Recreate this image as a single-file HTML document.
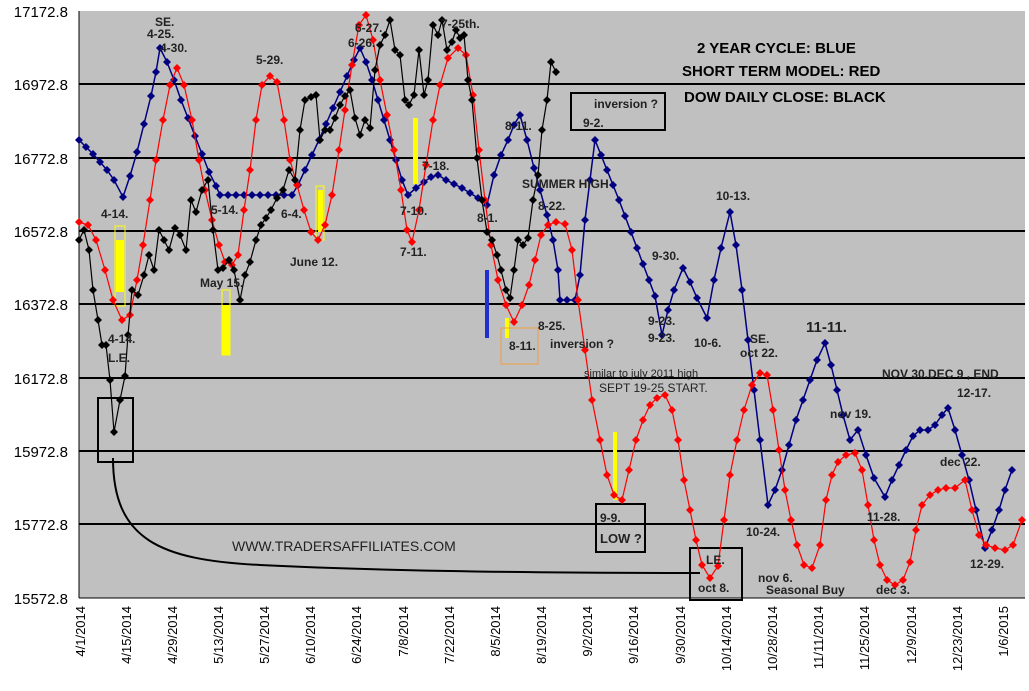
<!DOCTYPE html>
<html><head><meta charset="utf-8"><style>
body{margin:0;background:#fff}
svg{display:block;font-family:"Liberation Sans",Arial,sans-serif}
.t{font-size:12px;font-weight:bold;fill:#222}
.y{font-size:15px;fill:#000}
.x{font-size:13px;fill:#000}
</style></head><body>
<svg width="1029" height="691" viewBox="0 0 1029 691">
<defs>
<marker id="mb" markerWidth="8" markerHeight="8" refX="4" refY="4" markerUnits="userSpaceOnUse"><path d="M4 0L8 4L4 8L0 4Z" fill="#000080"/></marker>
<marker id="mr" markerWidth="8" markerHeight="8" refX="4" refY="4" markerUnits="userSpaceOnUse"><path d="M4 0L8 4L4 8L0 4Z" fill="#ff0000"/></marker>
<marker id="mk" markerWidth="8" markerHeight="8" refX="4" refY="4" markerUnits="userSpaceOnUse"><path d="M4 0L8 4L4 8L0 4Z" fill="#000"/></marker>
</defs>
<rect x="79" y="11" width="946" height="587" fill="#c0c0c0"/>
<g stroke="#000" stroke-width="2">
<line x1="79" y1="84" x2="1025" y2="84"/><line x1="79" y1="158" x2="1025" y2="158"/>
<line x1="79" y1="231" x2="1025" y2="231"/><line x1="79" y1="304" x2="1025" y2="304"/>
<line x1="79" y1="378" x2="1025" y2="378"/><line x1="79" y1="451" x2="1025" y2="451"/>
<line x1="79" y1="524" x2="1025" y2="524"/>
</g>
<line x1="79" y1="11" x2="79" y2="598" stroke="#000"/>
<line x1="79" y1="598" x2="1025" y2="598" stroke="#000"/>
<g class="y" text-anchor="end">
<text x="68" y="17">17172.8</text><text x="68" y="90">16972.8</text><text x="68" y="164">16772.8</text>
<text x="68" y="237">16572.8</text><text x="68" y="310">16372.8</text><text x="68" y="384">16172.8</text>
<text x="68" y="457">15972.8</text><text x="68" y="530">15772.8</text><text x="68" y="604">15572.8</text>
</g>
<g class="x" text-anchor="end">
<text transform="translate(85,606) rotate(-90)">4/1/2014</text>
<text transform="translate(131,606) rotate(-90)">4/15/2014</text>
<text transform="translate(177,606) rotate(-90)">4/29/2014</text>
<text transform="translate(223,606) rotate(-90)">5/13/2014</text>
<text transform="translate(269,606) rotate(-90)">5/27/2014</text>
<text transform="translate(315,606) rotate(-90)">6/10/2014</text>
<text transform="translate(361,606) rotate(-90)">6/24/2014</text>
<text transform="translate(408,606) rotate(-90)">7/8/2014</text>
<text transform="translate(454,606) rotate(-90)">7/22/2014</text>
<text transform="translate(500,606) rotate(-90)">8/5/2014</text>
<text transform="translate(546,606) rotate(-90)">8/19/2014</text>
<text transform="translate(592,606) rotate(-90)">9/2/2014</text>
<text transform="translate(638,606) rotate(-90)">9/16/2014</text>
<text transform="translate(685,606) rotate(-90)">9/30/2014</text>
<text transform="translate(731,606) rotate(-90)">10/14/2014</text>
<text transform="translate(777,606) rotate(-90)">10/28/2014</text>
<text transform="translate(823,606) rotate(-90)">11/11/2014</text>
<text transform="translate(869,606) rotate(-90)">11/25/2014</text>
<text transform="translate(916,606) rotate(-90)">12/9/2014</text>
<text transform="translate(962,606) rotate(-90)">12/23/2014</text>
<text transform="translate(1008,606) rotate(-90)">1/6/2015</text>
</g>
<!-- bars & boxes -->
<rect x="115" y="226" width="10" height="80" fill="none" stroke="#ff0"/>
<rect x="116" y="240" width="8" height="52" fill="#ff0"/>
<rect x="222" y="290" width="8" height="65" fill="none" stroke="#ff0"/>
<rect x="222" y="305" width="8" height="50" fill="#ff0"/>
<rect x="316" y="186" width="8" height="54" fill="none" stroke="#ff0"/>
<rect x="318" y="190" width="5" height="42" fill="#ff0"/>
<rect x="413" y="118" width="5" height="66" fill="#ff0"/>
<rect x="613" y="432" width="4" height="68" fill="#ff0"/>
<rect x="505" y="318" width="4" height="20" fill="#ff0"/>
<rect x="485" y="270" width="4" height="68" fill="#2030d0"/>
<rect x="501" y="328" width="37" height="36" fill="none" stroke="#f0a040"/>
<g fill="none" stroke="#000" stroke-width="2">
<rect x="98" y="398" width="35" height="64"/>
<rect x="596" y="504" width="49" height="48"/>
<rect x="690" y="548" width="52" height="52"/>
<rect x="571" y="93" width="94" height="37"/>
<path d="M113 458 C113 540 160 560 260 565 C400 572 600 573 700 573"/>
</g>
<!-- series -->
<polyline fill="none" stroke="#000080" stroke-width="1.5" marker-start="url(#mb)" marker-mid="url(#mb)" marker-end="url(#mb)" points="79,140 86,147 93,154 100,162 107,170 114,180 123,197 130,176 137,152 144,124 151,96 156,72 160,48 167,62 174,80 181,100 188,118 195,136 202,154 209,172 216,186 220,195 228,195 236,195 244,195 252,195 260,195 268,195 276,195 284,195 292,195 298,185 305,170 312,155 319,140 326,124 333,108 340,92 347,76 354,60 360,48 366,62 372,80 378,100 384,120 390,140 396,160 402,180 408,195 416,188 424,182 431,177 438,175 446,180 454,184 462,188 470,193 478,198 487,205 494,175 501,155 508,140 514,125 520,115 527,140 534,168 540,190 547,215 553,240 558,270 560,300 567,300 575,300 580,275 585,220 590,180 595,140 601,155 607,170 613,185 619,200 625,216 631,232 637,248 643,264 649,280 655,296 662,335 668,310 674,290 683,268 690,282 697,298 707,318 714,280 721,248 730,212 736,245 742,290 748,340 754,390 760,440 768,505 775,490 782,470 789,445 796,420 803,400 810,380 817,360 825,343 831,365 837,390 843,415 850,440 858,430 866,455 874,478 885,497 892,480 899,465 906,450 913,436 920,430 928,430 935,425 942,415 948,408 955,430 962,455 969,480 976,510 985,548 992,530 999,510 1005,490 1012,470"/>
<polyline fill="none" stroke="#ff0000" stroke-width="1.2" marker-start="url(#mr)" marker-mid="url(#mr)" marker-end="url(#mr)" points="79,222 88,225 96,240 105,270 113,300 122,320 130,315 137,280 143,245 150,200 156,160 163,120 170,85 177,68 184,85 192,120 199,160 205,190 212,220 219,245 225,262 232,265 238,255 244,210 250,170 256,120 262,85 270,76 277,82 284,120 290,160 297,185 304,210 311,232 318,240 325,225 332,195 339,150 345,110 352,65 359,25 366,15 373,40 380,80 387,115 394,150 401,190 407,230 412,242 419,210 426,165 433,120 440,85 448,58 458,48 466,55 473,95 479,150 485,200 491,245 498,280 506,305 514,322 522,305 529,285 535,260 541,235 548,225 556,222 565,224 572,250 578,300 585,350 592,400 600,440 607,475 614,495 622,500 629,470 636,440 643,420 650,405 657,398 665,395 672,410 678,440 684,480 690,510 696,540 702,565 710,578 718,566 724,520 730,475 737,440 744,410 752,385 760,373 767,375 773,410 779,450 785,490 791,520 797,545 804,565 812,568 820,545 826,500 832,475 838,462 846,455 855,453 862,470 868,505 874,540 880,565 887,580 895,585 903,580 910,562 916,530 922,505 930,495 938,490 946,488 955,488 965,480 972,510 979,535 986,545 995,548 1005,550 1013,545 1022,520"/>
<polyline fill="none" stroke="#000" stroke-width="1.2" marker-start="url(#mk)" marker-mid="url(#mk)" marker-end="url(#mk)" points="79,240 84,230 89,250 93,290 98,320 102,345 106,345 110,380 114,432 120,400 125,376 128,335 132,290 138,295 144,275 149,255 154,270 159,230 164,240 169,250 175,228 180,235 186,250 191,200 196,212 202,190 208,180 213,230 218,270 223,268 229,260 234,270 240,300 245,275 250,262 256,240 261,225 266,218 271,210 277,198 283,190 289,170 295,180 300,130 305,100 311,97 316,95 320,140 325,130 330,130 335,118 340,105 345,96 350,90 355,118 360,135 365,120 370,128 375,70 380,45 385,35 390,20 395,50 400,55 405,100 409,105 414,95 419,50 424,95 428,80 433,25 438,35 442,20 447,50 452,42 456,30 460,38 464,35 468,80 472,100 477,158 482,200 487,232 492,240 497,255 501,270 506,290 510,298 514,270 518,240 523,245 528,238 533,200 538,175 542,130 547,100 551,62 556,72"/>
<!-- labels -->
<g class="t">
<text x="155" y="26">SE.</text><text x="147" y="38">4-25.</text><text x="160" y="52">4-30.</text>
<text x="256" y="64">5-29.</text><text x="355" y="32">6-27.</text><text x="348" y="47">6-26.</text>
<text x="441" y="28">7-25th.</text><text x="505" y="130">8-11.</text>
<text x="101" y="218">4-14.</text><text x="108" y="343">4-14.</text><text x="108" y="362">L.E.</text>
<text x="211" y="214">5-14.</text><text x="200" y="287">May 15.</text>
<text x="281" y="218">6-4.</text><text x="290" y="266">June 12.</text>
<text x="422" y="170">7-18.</text><text x="400" y="215">7-10.</text><text x="400" y="256">7-11.</text>
<text x="477" y="222">8-1.</text><text x="509" y="350">8-11.</text>
<text x="522" y="188">SUMMER HIGH</text><text x="538" y="210">8-22.</text>
<text x="538" y="330">8-25.</text><text x="550" y="348">inversion ?</text>
<text x="583" y="127">9-2.</text><text x="594" y="108">inversion ?</text>
<text x="652" y="260">9-30.</text><text x="648" y="325">9-23.</text><text x="648" y="342">9-23.</text>
<text x="694" y="347">10-6.</text><text x="716" y="200">10-13.</text>
<text x="750" y="343">SE.</text><text x="740" y="357">oct 22.</text>
<text x="746" y="536">10-24.</text>
<text x="600" y="522">9-9.</text><text x="600" y="543" style="font-size:13px">LOW ?</text>
<text x="706" y="564">LE.</text><text x="698" y="592">oct 8.</text>
<text x="758" y="582">nov 6.</text><text x="766" y="594">Seasonal Buy</text>
<text x="830" y="418">nov 19.</text><text x="867" y="521">11-28.</text><text x="876" y="594">dec 3.</text>
<text x="940" y="466">dec 22.</text><text x="957" y="397">12-17.</text><text x="970" y="568">12-29.</text>
<text x="882" y="378">NOV 30.DEC 9 , END</text>
<text x="806" y="332" style="font-size:15px">11-11.</text>
</g>
<text x="584" y="377" style="font-size:11px;fill:#222">similar to july 2011 high</text>
<text x="599" y="392" style="font-size:12px;fill:#222">SEPT 19-25 START.</text>
<text x="232" y="551" style="font-size:14px;fill:#222">WWW.TRADERSAFFILIATES.COM</text>
<g style="font-size:15px;font-weight:bold;fill:#000">
<text x="697" y="53">2 YEAR CYCLE: BLUE</text>
<text x="682" y="76">SHORT TERM MODEL: RED</text>
<text x="684" y="102">DOW DAILY CLOSE: BLACK</text>
</g>
</svg>
</body></html>
